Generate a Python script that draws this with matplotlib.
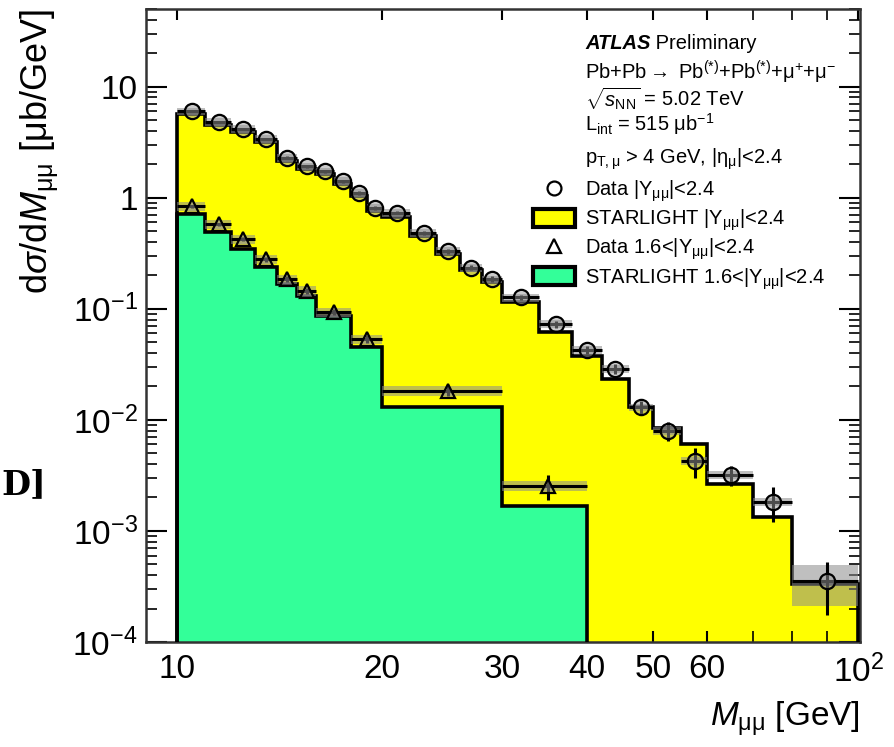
import numpy as np
import matplotlib
matplotlib.use('Agg')
import matplotlib.pyplot as plt
from matplotlib.lines import Line2D
from matplotlib.patches import Patch
from matplotlib.ticker import FixedLocator, NullFormatter, LogLocator

plt.rcParams['font.family'] = ['Liberation Sans', 'DejaVu Sans']
plt.rcParams['mathtext.fontset'] = 'custom'
plt.rcParams['mathtext.rm'] = 'Liberation Sans'
plt.rcParams['mathtext.it'] = 'Liberation Sans:italic'
plt.rcParams['mathtext.bf'] = 'Liberation Sans:bold'

# Data, |Y_mumu| < 2.4
edges_all = [10, 11, 12, 13, 14, 15, 16, 17, 18, 19, 20, 22, 24, 26, 28, 30,
             34, 38, 42, 46, 50, 55, 60, 70, 80, 100]
data_all = [6.0, 4.82, 4.17, 3.39, 2.29, 1.92, 1.73, 1.41, 1.11, 0.813,
            0.733, 0.485, 0.331, 0.235, 0.1845, 0.1264, 0.0727, 0.0425, 0.0287,
            0.01298, 0.0080, 0.0043, 0.0032, 0.00184, 0.000352]
stat_all = [0.02, 0.02, 0.02, 0.02, 0.03, 0.03, 0.03, 0.03, 0.04, 0.04,
            0.03, 0.04, 0.05, 0.05, 0.06, 0.05, 0.07, 0.08, 0.1, 0.15,
            0.2, 0.3, 0.2, 0.35, 0.5]
sys_all = [0.08] * 24 + [0.4]
starlight_all = [5.64, 4.53, 3.92, 3.18, 2.15, 1.81, 1.63, 1.32, 1.04, 0.764,
                 0.665, 0.449, 0.310, 0.222, 0.175, 0.1146, 0.0616, 0.0375, 0.0233,
                 0.0131, 0.0085, 0.0061, 0.00265, 0.00134, 0.000336]

# Data, 1.6 < |Y_mumu| < 2.4
edges_fwd = [10, 11, 12, 13, 14, 15, 16, 18, 20, 30, 40]
data_fwd = [0.840, 0.575, 0.422, 0.279, 0.1845, 0.145, 0.0932, 0.0533, 0.0182, 0.00255]
stat_fwd = [0.03, 0.04, 0.04, 0.05, 0.06, 0.06, 0.06, 0.08, 0.1, 0.25]
sys_fwd = [0.1] * 10
starlight_fwd = [0.708, 0.488, 0.343, 0.2365, 0.1664, 0.130, 0.0858, 0.0452, 0.01306, 0.00168]

yellow = '#ffff00'
green = '#33ff99'

fig = plt.figure(figsize=(8.94, 7.47), dpi=100)
ax = fig.add_axes([146 / 894, 1 - 642 / 747, 714 / 894, 633 / 747])
ax.set_xscale('log')
ax.set_yscale('log')
ax.set_xlim(9.0, 100.6)
ax.set_ylim(1e-4, 50)

base = 1e-6
ax.stairs(starlight_all, edges_all, baseline=base, fill=True, color=yellow, zorder=1)
ax.stairs(starlight_fwd, edges_fwd, baseline=base, fill=True, color=green, zorder=2)
ax.stairs(starlight_all, edges_all, baseline=base, color='black', lw=2.6, zorder=3)
ax.stairs(starlight_fwd, edges_fwd, baseline=base, color='black', lw=2.6, zorder=3)


def draw_data(edges, vals, stat, sys, marker, ms):
    e = np.array(edges, float)
    v = np.array(vals)
    lo, hi = e[:-1], e[1:]
    xc = 0.5 * (lo + hi)
    s = np.array(sys) * v
    ax.bar(lo, 2 * s, width=hi - lo, bottom=v - s, align='edge',
           color='#8c8c8c', alpha=0.55, lw=0, zorder=4)
    ax.errorbar(xc, v, yerr=np.array(stat) * v, xerr=[xc - lo, hi - xc],
                fmt='none', ecolor='black', elinewidth=2.2, capsize=0, zorder=5)
    ax.plot(xc, v, ls='none', marker=marker, ms=ms,
            mfc=(0.6, 0.6, 0.6, 0.5), mec='black', mew=1.6, zorder=6)


draw_data(edges_all, data_all, stat_all, sys_all, 'o', 11)
draw_data(edges_fwd, data_fwd, stat_fwd, sys_fwd, '^', 10.5)

# axes style
ax.xaxis.set_major_locator(FixedLocator([10, 20, 30, 40, 50, 60, 100]))
ax.xaxis.set_minor_locator(FixedLocator([70, 80, 90]))
ax.set_xticklabels(['10', '20', '30', '40', '50', '60', r'10$^{2}$'])
ax.xaxis.set_minor_formatter(NullFormatter())
ax.yaxis.set_major_locator(LogLocator(base=10, numticks=20))
ax.yaxis.set_minor_locator(LogLocator(base=10, subs=np.arange(2, 10), numticks=20))
ax.yaxis.set_minor_formatter(NullFormatter())
ax.set_yticks([1e-4, 1e-3, 1e-2, 1e-1, 1, 10])
ax.set_yticklabels([r'10$^{-4}$', r'10$^{-3}$', r'10$^{-2}$', r'10$^{-1}$', '1', '10'])
ax.tick_params(axis='both', which='both', direction='in', top=True, right=True)
ax.tick_params(axis='y', which='major', length=15, width=1.5, labelsize=24, pad=6)
ax.tick_params(axis='y', which='minor', length=8, width=1.2)
ax.tick_params(axis='x', which='major', length=8, width=1.5, labelsize=24, pad=9)
ax.tick_params(axis='x', which='minor', length=8, width=1.2)
for sp in ax.spines.values():
    sp.set_linewidth(1.8)
    sp.set_color('#333333')

ax.set_xlabel(r'$M_{\mathrm{\mu\mu}}$ [GeV]', fontsize=24, loc='right', labelpad=8)
ax.set_ylabel(r'd$\sigma$/d$M_{\mathrm{\mu\mu}}$ [$\mathrm{\mu}$b/GeV]', fontsize=26,
              loc='top', labelpad=8)

# labels
fs = 14.5
tx = 0.615
t1 = ax.text(tx, 0.946, 'ATLAS', transform=ax.transAxes, fontsize=fs,
             fontweight='bold', fontstyle='italic', va='center')
ax.annotate(' Preliminary', xy=(1, 0.5), xycoords=t1, va='center', fontsize=fs)
info = [r'Pb+Pb$\rightarrow$ Pb$^{(*)}$+Pb$^{(*)}$+$\mathrm{\mu}^{+}$+$\mathrm{\mu}^{-}$',
        r'$\sqrt{s_{\rm NN}}$ = 5.02 TeV',
        r'L$_{\rm int}$ = 515 $\mathrm{\mu}$b$^{-1}$',
        r'p$_{\rm T,\mu}$ > 4 GeV, |$\mathrm{\eta}_{\mathrm{\mu}}$|<2.4']
for yy, s in zip([0.900, 0.859, 0.818, 0.763], info):
    ax.text(tx, yy, s, transform=ax.transAxes, fontsize=fs, va='center')

handles = [Line2D([], [], ls='none', marker='o', ms=10, mfc='white', mec='black', mew=1.6),
           Patch(facecolor=yellow, edgecolor='black', lw=3),
           Line2D([], [], ls='none', marker='^', ms=10, mfc='white', mec='black', mew=1.6),
           Patch(facecolor=green, edgecolor='black', lw=3)]
labels = [r'Data |Y$_{\mathrm{\mu\mu}}$|<2.4', r'STARLIGHT |Y$_{\mathrm{\mu\mu}}$|<2.4',
          r'Data 1.6<|Y$_{\mathrm{\mu\mu}}$|<2.4', r'STARLIGHT 1.6<|Y$_{\mathrm{\mu\mu}}$|<2.4']
ax.legend(handles, labels, loc='upper left', bbox_to_anchor=(0.542, 0.732),
          frameon=False, fontsize=fs, handlelength=2.1, handleheight=1.0,
          handletextpad=0.5, labelspacing=0.18, borderpad=0, borderaxespad=0)

fig.text(1 / 894, 1 - 485 / 747, 'D]', ha='left', va='center', fontsize=24,
         family='DejaVu Serif', fontweight='bold')

fig.savefig('out.png', dpi=100)
